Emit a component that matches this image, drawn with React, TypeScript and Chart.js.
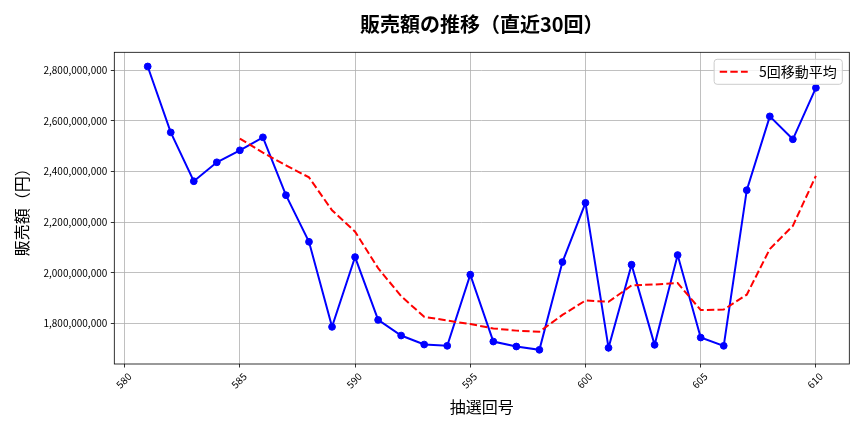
import React, { useEffect, useRef } from 'react';
import { Chart, registerables } from 'chart.js';

Chart.register(...registerables);

const FONT = "'Noto Sans CJK JP', 'Noto Sans', sans-serif";

const TITLE = '販売額の推移（直近30回）';
const X_LABEL = '抽選回号';
const Y_LABEL = '販売額（円）';
const MA_LABEL = '5回移動平均';

const draws = [
  581, 582, 583, 584, 585, 586, 587, 588, 589, 590,
  591, 592, 593, 594, 595, 596, 597, 598, 599, 600,
  601, 602, 603, 604, 605, 606, 607, 608, 609, 610,
];

const sales = [
  2814600000, 2554600000, 2361700000, 2436500000, 2483800000,
  2535000000, 2306600000, 2122800000, 1787000000, 2062500000,
  1814500000, 1752800000, 1717300000, 1712200000, 1993000000,
  1729100000, 1709500000, 1696400000, 2042900000, 2276400000,
  1704300000, 2032300000, 1716100000, 2070500000, 1744900000,
  1712200000, 2326400000, 2617700000, 2527200000, 2730300000,
];

const maDraws = [
  585, 586, 587, 588, 589, 590, 591, 592, 593, 594, 595, 596, 597,
  598, 599, 600, 601, 602, 603, 604, 605, 606, 607, 608, 609, 610,
];

const movingAvg = [
  2530200000, 2474300000, 2424700000, 2376900000, 2247000000,
  2162800000, 2018700000, 1907900000, 1826800000, 1811900000,
  1798000000, 1780900000, 1772200000, 1768000000, 1834200000,
  1890900000, 1885900000, 1950500000, 1954400000, 1959900000,
  1853600000, 1855200000, 1914000000, 2094300000, 2185700000,
  2382800000,
];

const xTicks = [580, 585, 590, 595, 600, 605, 610];
const yTicks = [1800000000, 2000000000, 2200000000, 2400000000, 2600000000, 2800000000];

const X_MIN = 579.55;
const X_MAX = 611.45;
const Y_MIN = 1640500000;
const Y_MAX = 2870500000;

const decorPlugin = {
  id: 'decor',
  afterDraw(chart: any) {
    const { ctx, chartArea: a } = chart;
    ctx.save();
    ctx.strokeStyle = '#000';
    ctx.lineWidth = 0.8;
    ctx.setLineDash([]);
    ctx.strokeRect(a.left, a.top, a.right - a.left, a.bottom - a.top);

    const cx = (a.left + a.right) / 2;
    ctx.fillStyle = '#000';
    ctx.textAlign = 'center';
    ctx.textBaseline = 'middle';
    ctx.font = `bold 20px ${FONT}`;
    ctx.fillText(TITLE, cx, 24);

    ctx.font = `16px ${FONT}`;
    ctx.fillText(X_LABEL, cx, 407);

    ctx.save();
    ctx.translate(21.5, (a.top + a.bottom) / 2);
    ctx.rotate(-Math.PI / 2);
    ctx.fillText(Y_LABEL, 0, 0);
    ctx.restore();

    const fs = 14;
    ctx.font = `${fs}px ${FONT}`;
    const tw = ctx.measureText(MA_LABEL).width;
    const pad = 0.4 * fs;
    const handle = 2 * fs;
    const gap = 0.8 * fs;
    const w = pad + handle + gap + tw + pad;
    const h = 25;
    const right = a.right - 0.5 * fs;
    const top = a.top + 0.5 * fs;
    const left = right - w;
    const r = 3;
    ctx.beginPath();
    ctx.moveTo(left + r, top);
    ctx.lineTo(right - r, top);
    ctx.arcTo(right, top, right, top + r, r);
    ctx.lineTo(right, top + h - r);
    ctx.arcTo(right, top + h, right - r, top + h, r);
    ctx.lineTo(left + r, top + h);
    ctx.arcTo(left, top + h, left, top + h - r, r);
    ctx.lineTo(left, top + r);
    ctx.arcTo(left, top, left + r, top, r);
    ctx.closePath();
    ctx.fillStyle = 'rgba(255,255,255,0.8)';
    ctx.fill();
    ctx.strokeStyle = '#cccccc';
    ctx.lineWidth = 1;
    ctx.stroke();

    const ly = top + h / 2;
    ctx.beginPath();
    ctx.strokeStyle = '#ff0000';
    ctx.lineWidth = 2;
    ctx.setLineDash([7.4, 3.2]);
    ctx.moveTo(left + pad, ly);
    ctx.lineTo(left + pad + handle, ly);
    ctx.stroke();
    ctx.setLineDash([]);

    ctx.fillStyle = '#000';
    ctx.textAlign = 'left';
    ctx.textBaseline = 'middle';
    ctx.fillText(MA_LABEL, left + pad + handle + gap, ly);
    ctx.restore();
  },
};

export default function App() {
  const ref = useRef<HTMLCanvasElement | null>(null);

  useEffect(() => {
    if (!ref.current) return;
    const chart = new Chart(ref.current, {
      type: 'line',
      data: {
        datasets: [
          {
            label: MA_LABEL,
            data: maDraws.map((d, i) => ({ x: d, y: movingAvg[i] })),
            borderColor: '#ff0000',
            backgroundColor: '#ff0000',
            borderWidth: 2,
            borderDash: [7.4, 3.2],
            pointRadius: 0,
            tension: 0,
            fill: false,
            order: 0,
          },
          {
            label: '販売額',
            data: draws.map((d, i) => ({ x: d, y: sales[i] })),
            borderColor: '#0000ff',
            backgroundColor: '#0000ff',
            borderWidth: 2,
            pointRadius: 3.4,
            pointBorderWidth: 1,
            pointBackgroundColor: '#0000ff',
            pointBorderColor: '#0000ff',
            tension: 0,
            fill: false,
            order: 1,
          },
        ],
      },
      options: {
        responsive: false,
        animation: false,
        devicePixelRatio: 1,
        layout: { padding: { top: 52.3, right: 14.7, left: 0, bottom: 0 } },
        plugins: {
          legend: { display: false },
          tooltip: { enabled: false },
          title: { display: false },
        },
        scales: {
          x: {
            type: 'linear',
            position: 'bottom',
            min: X_MIN,
            max: X_MAX,
            afterBuildTicks: (s: any) => {
              s.ticks = xTicks.map((v) => ({ value: v }));
            },
            afterFit: (s: any) => {
              s.height = 68;
            },
            border: { display: false },
            grid: {
              color: '#b0b0b0',
              lineWidth: 0.8,
              drawTicks: true,
              tickLength: 3.5,
              tickColor: '#000',
              tickWidth: 0.8,
            },
            ticks: {
              autoSkip: false,
              minRotation: 45,
              maxRotation: 45,
              padding: 3,
              labelOffset: 5,
              color: '#000',
              font: { family: FONT, size: 10 },
              callback: (v: any) => String(v),
            },
          },
          y: {
            type: 'linear',
            min: Y_MIN,
            max: Y_MAX,
            afterBuildTicks: (s: any) => {
              s.ticks = yTicks.map((v) => ({ value: v }));
            },
            afterFit: (s: any) => {
              s.width = 114.3;
            },
            border: { display: false },
            grid: {
              color: '#b0b0b0',
              lineWidth: 0.8,
              drawTicks: true,
              tickLength: 3.5,
              tickColor: '#000',
              tickWidth: 0.8,
            },
            ticks: {
              padding: 3.5,
              color: '#000',
              font: { family: FONT, size: 10 },
              callback: (v: any) => Number(v).toLocaleString('en-US'),
            },
          },
        },
      },
      plugins: [decorPlugin],
    });
    return () => chart.destroy();
  }, []);

  return (
    <div style={{ position: 'absolute', left: 0, top: 0, width: 864, height: 432, background: '#fff' }}>
      <canvas ref={ref} width={864} height={432} style={{ display: 'block', width: 864, height: 432 }} />
    </div>
  );
}
